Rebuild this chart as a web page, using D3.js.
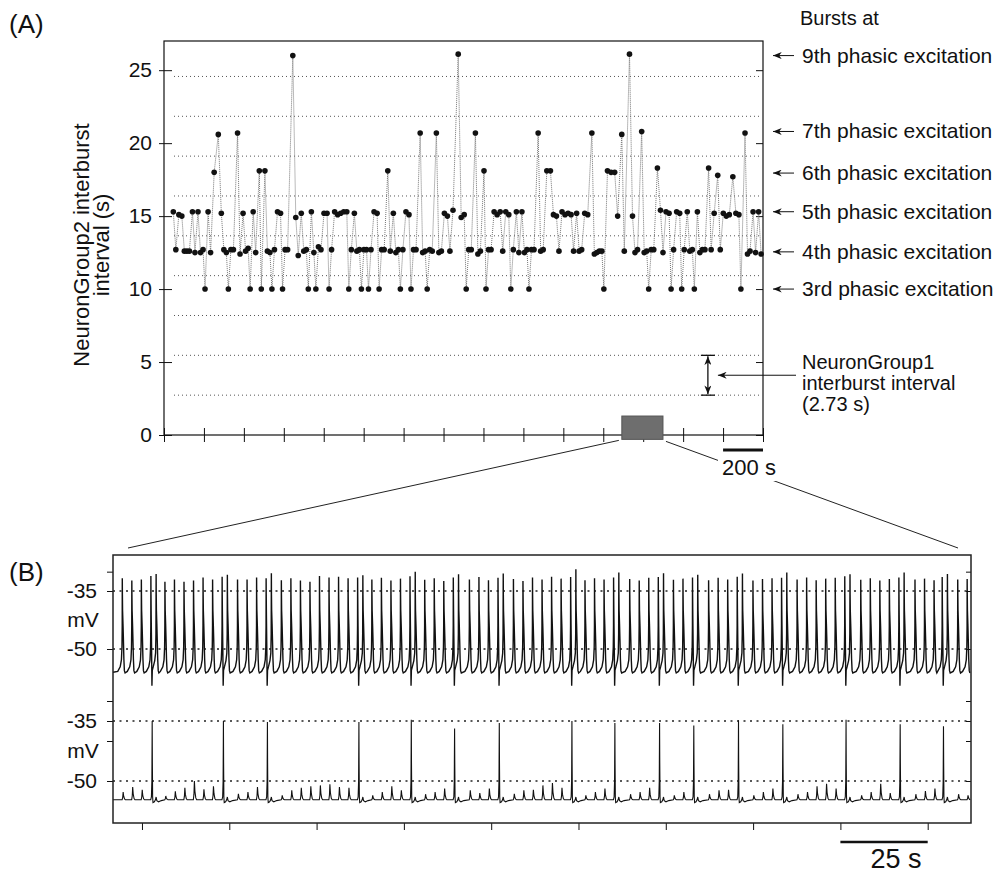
<!DOCTYPE html>
<html>
<head>
<meta charset="utf-8">
<script src="https://cdn.jsdelivr.net/npm/d3@7"></script>
<style>
body { margin: 0; background: #fff; }
text { font-family: "Liberation Sans", Arial, sans-serif; fill: #111; }
</style>
</head>
<body>
<svg id="chart" width="1005" height="874"></svg>
<script>
// ---------- data, panel A ----------
// time (s) of the first plotted NeuronGroup2 burst; every later burst is the previous one plus its interval
const firstBurst = 46.6;
const intervals = [
  15.3,12.7,15.1,15.0,12.6,12.6,12.6,15.3,12.5,15.3,12.5,12.7,10.0,15.3,12.5,18.0,20.6,15.2,12.7,12.5,
  10.0,12.7,12.7,20.7,12.4,15.2,12.6,12.8,10.0,15.3,12.5,18.1,10.0,18.1,12.6,12.5,10.0,12.7,15.3,15.2,
  10.0,12.7,12.7,26.0,14.9,12.3,15.2,12.6,12.7,10.0,15.3,12.5,
  10.0,12.9,12.7,15.2,15.2,10.0,12.7,15.3,15.1,15.2,15.3,15.3,10.0,12.7,15.2,12.6,12.7,10.0,12.7,12.7,
  10.0,12.7,15.3,15.2,10.0,12.7,12.7,18.1,12.6,15.2,12.5,12.7,10.0,12.7,15.3,15.1,10.0,12.7,12.7,20.7,
  12.5,12.6,10.0,12.7,12.6,20.7,12.5,12.6,15.2,15.0,12.6,15.4,26.1,14.9,15.1,10.0,
  12.7,12.7,20.7,12.4,12.6,18.1,10.0,12.7,12.7,15.3,15.1,15.3,12.6,15.3,15.1,10.0,12.7,15.3,12.5,15.3,
  12.5,12.7,10.0,12.7,12.7,20.7,12.6,12.7,18.1,18.1,15.1,15.0,12.6,15.3,15.1,15.2,15.1,12.6,15.2,12.6,
  12.7,15.2,15.1,20.7,12.4,12.5,12.6,12.6,10.0,18.1,18.0,18.0,15.0,
  20.6,12.6,26.1,15.0,12.5,12.7,20.8,12.5,12.6,10.0,12.7,12.7,18.3,15.4,12.5,15.3,15.2,10.0,12.7,15.3,
  15.2,10.0,12.7,15.3,12.6,12.7,10.0,15.3,12.5,12.7,12.7,18.3,12.7,15.2,17.8,12.7,15.2,15.0,15.1,17.7,
  15.2,15.1,10.0,20.7,12.4,12.6,15.3,12.5,15.3,12.4
];
const yTicksA = [0, 5, 10, 15, 20, 25];
const xTicksA = [0,200,400,600,800,1000,1200,1400,1600,1800,2000,2200,2400,2600,2800,3000];
const ng1Interval = 2.73;
const phasicLabels = ["9th phasic excitation","7th phasic excitation","6th phasic excitation",
                      "5th phasic excitation","4th phasic excitation","3rd phasic excitation"];
const phasicLevels = [26.0, 20.8, 17.95, 15.3, 12.55, 10.0];
const zoomWindow = [2293, 2499];     // s, grey box
const scaleBarA = [2800, 3000];

// ---------- data, panel B ----------
const ng1Times = [
  -5.64,-2.91,-0.18,
  2.55,6.57,9.30,12.03,14.76,17.49,20.22,
  22.95,27.36,30.09,32.82,
  35.55,39.91,42.64,45.37,48.10,50.83,53.56,56.29,59.02,
  61.75,65.83,68.56,71.29,74.02,
  76.75,80.96,83.69,86.42,
  89.15,93.76,96.49,99.22,
  101.95,106.37,109.10,111.83,114.56,117.29,120.02,
  122.75,126.86,129.59,132.32,
  135.05,139.66,142.39,145.12,
  147.85,152.19,154.92,
  157.65,162.26,164.99,167.72,
  170.45,174.96,177.69,180.42,
  183.15,187.60,190.33,193.06,195.79,198.52,
  201.25,205.83,208.56,211.29,214.02,
  216.75,221.36,224.09,226.82,
  229.15,233.6,236.3
];
const ng1Peaks = [
  -31.7,-32.3,-32.0,
  -31.1,-32.6,-32.0,-32.6,-32.3,-31.5,-32.0,
  -31.3,-32.0,-32.0,-31.5,
  -31.7,-32.2,-31.7,-32.3,-32.6,-31.1,-31.5,-31.3,-31.7,
  -31.5,-32.0,-31.6,-32.3,-31.8,
  -31.2,-32.1,-31.7,-32.4,
  -31.5,-32.0,-31.4,-32.2,
  -31.6,-31.9,-32.4,-31.5,-32.0,-31.3,-31.8,
  -31.4,-32.2,-31.7,-32.0,
  -31.5,-31.9,-32.3,-31.6,
  -31.4,-32.1,-31.8,
  -31.5,-32.2,-31.6,-32.0,
  -31.3,-32.3,-31.9,-31.7,
  -31.6,-32.0,-31.5,-32.2,-31.8,-31.6,
  -31.2,-32.1,-31.7,-32.3,-31.9,
  -31.5,-32.0,-31.8,-32.2,
  -31.4,-32.0,-31.9
];
// NeuronGroup2 response (peak mV) to each NeuronGroup1 burst; above -45 it is a spike
const ng2Peaks = [
  -52.75,-51.5,-52.2,
  -35.0,-53.75,-52.6,-51.7,-50.0,-52.1,-51.3,
  -35.0,-53.2,-52.75,-51.5,
  -35.25,-53.6,-52.3,-51.7,-51.3,-51.1,-50.8,-51.5,-51.7,
  -35.25,-53.6,-52.75,-51.3,-52.3,
  -34.7,-53.3,-52.75,-51.9,
  -36.9,-52.3,-53.0,-51.9,
  -35.5,-53.2,-52.3,-52.2,-51.1,-50.5,-51.7,
  -35.0,-53.6,-52.75,-51.9,
  -35.5,-53.3,-52.75,-51.7,
  -35.5,-53.6,-52.75,
  -36.1,-53.3,-52.3,-52.2,
  -34.8,-53.6,-52.75,-51.9,
  -35.8,-53.3,-52.75,-51.3,-50.7,-51.9,
  -34.7,-53.6,-52.75,-50.7,-53.0,
  -35.8,-53.3,-52.5,-51.9,
  -36.3,-53.3,-53.6
];
// extra NeuronGroup1 peak that follows each NeuronGroup2 spike
const ng1Rebound = [-30.6,-30.8,-30.4,-30.9,-30.0,-30.7,-30.5,-29.4,-30.2,-30.4,-30.8,-30.5,-30.2,-30.7,-30.2,-30.6];
const mvLabels = [-35, -50];
const mvTicksTop = [-30, -35, -50];
const mvTicksBottom = [-30, -35, -40, -50];
const xTicksB = [0,25,50,75,100,125,150,175,200,225];
const scaleBarB = [200, 225];

// ---------- layout ----------
const svg = d3.select("#chart");
const A = {left: 164, right: 763, top: 41, bottom: 435};
const B = {left: 113, right: 971, top: 555, bottom: 823};

const xA = d3.scaleLinear().domain([0, 3000]).range([A.left, A.right]);
const yA = d3.scaleLinear().domain([0, 27]).range([A.bottom, A.top]);

const burstTimes = d3.cumsum(intervals).map(c => c + firstBurst - intervals[0]);
const pts = intervals.map((v, i) => ({t: burstTimes[i], v: v}));

function styleAxis(g) {
  g.select(".domain").remove();
  g.selectAll(".tick line").attr("stroke", "#111");
  g.selectAll(".tick text").attr("font-family", "Liberation Sans, Arial, sans-serif")
    .attr("font-size", 21).attr("fill", "#111");
}

// panel labels
svg.append("text").attr("x", 9).attr("y", 33).attr("font-size", 26).text("(A)");
svg.append("text").attr("x", 9).attr("y", 581).attr("font-size", 26).text("(B)");

// gridlines at multiples of the NeuronGroup1 interval
const gridLevels = d3.range(1, 10).map(k => k * ng1Interval);
svg.append("g").selectAll("line").data(gridLevels).join("line")
  .attr("x1", A.left + 10).attr("x2", A.right - 2)
  .attr("y1", d => yA(d)).attr("y2", d => yA(d))
  .attr("stroke", "#555").attr("stroke-width", 1).attr("stroke-dasharray", "1,3");

// axes A
svg.append("g").attr("transform", `translate(${A.left},0)`)
  .call(d3.axisLeft(yA).tickValues(yTicksA).tickSize(5).tickPadding(7)).call(styleAxis);
svg.append("g").attr("transform", `translate(${A.left},0)`)
  .call(d3.axisRight(yA).tickValues(yTicksA).tickSize(8).tickFormat("")).call(styleAxis);
svg.append("g").attr("transform", `translate(${A.right},0)`)
  .call(d3.axisLeft(yA).tickValues(yTicksA).tickSize(7).tickFormat("")).call(styleAxis);
svg.append("g").attr("transform", `translate(0,${A.bottom})`)
  .call(d3.axisBottom(xA).tickValues(xTicksA).tickSize(7).tickFormat("")).call(styleAxis);
svg.append("g").attr("transform", `translate(0,${A.bottom})`)
  .call(d3.axisTop(xA).tickValues(xTicksA).tickSize(7).tickFormat("")).call(styleAxis);
svg.append("rect").attr("x", A.left).attr("y", A.top)
  .attr("width", A.right - A.left).attr("height", A.bottom - A.top)
  .attr("fill", "none").attr("stroke", "#111").attr("stroke-width", 1.2);

// y title
const yTitle = svg.append("text").attr("transform", "translate(89,245) rotate(-90)")
  .attr("text-anchor", "middle").attr("font-size", 22);
yTitle.append("tspan").attr("x", 0).attr("dy", 0).text("NeuronGroup2 interburst");
yTitle.append("tspan").attr("x", 0).attr("dy", 20).text("interval (s)");

// series
svg.append("path").datum(pts)
  .attr("d", d3.line().x(d => xA(d.t)).y(d => yA(d.v)))
  .attr("fill", "none").attr("stroke", "#777").attr("stroke-width", 1)
  .attr("stroke-dasharray", "1,1");
svg.append("g").selectAll("circle").data(pts).join("circle")
  .attr("cx", d => xA(d.t)).attr("cy", d => yA(d.v)).attr("r", 2.8)
  .attr("fill", "#111");

// arrow marker, tip along the line direction
const defs = svg.append("defs");
defs.append("marker").attr("id", "arr").attr("viewBox", "0 0 10 8")
  .attr("refX", 10).attr("refY", 4).attr("markerWidth", 9).attr("markerHeight", 7)
  .attr("markerUnits", "userSpaceOnUse").attr("orient", "auto-start-reverse")
  .append("path").attr("d", "M10,4 L0,0 L3,4 L0,8 Z").attr("fill", "#111");

// right-side labels
svg.append("text").attr("x", 800).attr("y", 25).attr("font-size", 20).text("Bursts at");
const lab = svg.append("g").selectAll("g").data(phasicLabels).join("g")
  .attr("transform", (d, i) => `translate(0,${yA(phasicLevels[i])})`);
lab.append("line").attr("x1", 794).attr("x2", 773).attr("y1", 0).attr("y2", 0)
  .attr("stroke", "#111").attr("stroke-width", 1).attr("marker-end", "url(#arr)");
lab.append("text").attr("x", 802).attr("y", 7).attr("font-size", 21).text(d => d);

// NeuronGroup1 interval annotation
const annX = xA(2724);
svg.append("line").attr("x1", annX).attr("x2", annX)
  .attr("y1", yA(ng1Interval) - 1).attr("y2", yA(2 * ng1Interval) + 1)
  .attr("stroke", "#111").attr("stroke-width", 1.3)
  .attr("marker-start", "url(#arr)").attr("marker-end", "url(#arr)");
[ng1Interval, 2 * ng1Interval].forEach(v => {
  svg.append("line").attr("x1", annX - 7).attr("x2", annX + 7)
    .attr("y1", yA(v)).attr("y2", yA(v)).attr("stroke", "#111").attr("stroke-width", 1.3);
});
svg.append("line").attr("x1", 796).attr("x2", annX + 10)
  .attr("y1", yA(1.5 * ng1Interval)).attr("y2", yA(1.5 * ng1Interval))
  .attr("stroke", "#111").attr("stroke-width", 1).attr("marker-end", "url(#arr)");
const ann = svg.append("text").attr("font-size", 20);
["NeuronGroup1", "interburst interval", "(2.73 s)"].forEach((s, i) => {
  ann.append("tspan").attr("x", 802).attr("y", 369 + i * 21).text(s);
});

// zoom box and connectors
svg.append("rect").attr("x", xA(zoomWindow[0])).attr("y", yA(1.3))
  .attr("width", xA(zoomWindow[1]) - xA(zoomWindow[0])).attr("height", yA(-0.3) - yA(1.3))
  .attr("fill", "#6e6e6e").attr("stroke", "#555");
svg.append("line").attr("x1", xA(zoomWindow[0]) - 3).attr("y1", yA(-0.3) + 1)
  .attr("x2", B.left + 15).attr("y2", B.top - 7).attr("stroke", "#222").attr("stroke-width", 1);
svg.append("line").attr("x1", xA(zoomWindow[1]) + 3).attr("y1", yA(-0.3) + 2)
  .attr("x2", B.right - 13).attr("y2", B.top - 7).attr("stroke", "#222").attr("stroke-width", 1);

// 200 s scale bar
svg.append("line").attr("x1", xA(scaleBarA[0])).attr("x2", xA(scaleBarA[1]))
  .attr("y1", 450).attr("y2", 450).attr("stroke", "#111").attr("stroke-width", 3);
svg.append("rect").attr("x", 718).attr("y", 455).attr("width", 64).attr("height", 26).attr("fill", "#fff");
svg.append("text").attr("x", 749).attr("y", 475).attr("text-anchor", "middle")
  .attr("font-size", 22).text("200 s");

// ---------- panel B ----------
const xB = d3.scaleLinear().domain([-8.3, 237.4]).range([B.left, B.right]);
const yTop = d3.scaleLinear().domain([-50, -35]).range([649, 591]);
const yBot = d3.scaleLinear().domain([-50, -35]).range([781, 721]);

defs.append("clipPath").attr("id", "clipB").append("rect")
  .attr("x", B.left).attr("y", B.top).attr("width", B.right - B.left).attr("height", B.bottom - B.top);

// dotted reference lines
[[yTop, -35], [yTop, -50], [yBot, -35], [yBot, -50]].forEach(([s, v]) => {
  svg.append("line").attr("x1", B.left).attr("x2", B.right).attr("y1", s(v)).attr("y2", s(v))
    .attr("stroke", "#222").attr("stroke-width", 1.6).attr("stroke-dasharray", "2,4.5");
});

// waveform shapes (offset s, value mV) around each burst
const rampIn = [[-1.3,-55.8],[-0.6,-54.6],[-0.25,-52.8],[-0.09,-49.5],[-0.02,-44]];
const ng1Shape = (b, V) => rampIn.concat([[0,V],[0.03,-36],[0.08,-40],[0.2,-43.5],[0.32,-47.5],
  [0.45,-52.5],[0.6,-55.6],[0.8,-56.2]]).map(p => [b + p[0], p[1]]);
const ng1SpikeShape = (b, V, Vr) => rampIn.concat([[0,V],[0.03,-36],[0.08,-41],[0.2,-50],[0.3,-59.5],
  [0.4,-55.5],[0.7,-54.5],[1.1,-53],[1.35,-51],[1.45,-46],[1.5,Vr],[1.53,-36],[1.58,-40],[1.7,-43.5],
  [1.82,-47.5],[1.95,-52.5],[2.1,-55.6],[2.3,-56.2]]).map(p => [b + p[0], p[1]]);
const base2 = -54.7;
const ng2Bump = (b, V) => [[-0.05,base2],[0.12,base2 + 0.3 * (V - base2)],[0.25,V],
  [0.4,base2 + 0.45 * (V - base2)],[0.65,base2 + 0.1 * (V - base2)],[0.9,base2]].map(p => [b + p[0], p[1]]);
const ng2Spike = (b, V) => [[-0.05,base2],[0.15,-54],[0.28,-50],[0.33,-42],[0.37,V],[0.42,-45],[0.5,-54],
  [0.6,-55.4],[1.0,-55.2],[1.3,-54.7],[1.5,-54.0],[1.7,-54.9],[2.2,-55.2],[3.0,-54.9]].map(p => [b + p[0], p[1]]);

let trace1 = [[-8.3, -56.0]], trace2 = [[-8.3, base2]];
let k = 0;
ng1Times.forEach((b, i) => {
  const spike = ng2Peaks[i] > -45;
  trace1 = trace1.concat(spike ? ng1SpikeShape(b, ng1Peaks[i], ng1Rebound[k]) : ng1Shape(b, ng1Peaks[i]));
  trace2 = trace2.concat(spike ? ng2Spike(b, ng2Peaks[i]) : ng2Bump(b, ng2Peaks[i]));
  if (spike) k++;
});

const lineTop = d3.line().x(d => xB(d[0])).y(d => yTop(d[1]));
const lineBot = d3.line().x(d => xB(d[0])).y(d => yBot(d[1]));
const gTr = svg.append("g").attr("clip-path", "url(#clipB)");
gTr.append("path").attr("d", lineTop(trace1)).attr("fill", "none")
  .attr("stroke", "#111").attr("stroke-width", 1.4);
gTr.append("path").attr("d", lineBot(trace2)).attr("fill", "none")
  .attr("stroke", "#111").attr("stroke-width", 1.1);

// axes B
svg.append("g").attr("transform", `translate(${B.left},0)`)
  .call(d3.axisLeft(yTop).tickValues(mvTicksTop).tickSize(6).tickFormat("")).call(styleAxis);
svg.append("g").attr("transform", `translate(${B.left},0)`)
  .call(d3.axisLeft(yBot).tickValues(mvTicksBottom).tickSize(6).tickFormat("")).call(styleAxis);
svg.append("g").attr("transform", `translate(${B.right},0)`)
  .call(d3.axisLeft(yTop).tickValues(mvTicksTop).tickSize(5).tickFormat("")).call(styleAxis);
svg.append("g").attr("transform", `translate(${B.right},0)`)
  .call(d3.axisLeft(yBot).tickValues(mvTicksBottom).tickSize(5).tickFormat("")).call(styleAxis);
svg.append("g").attr("transform", `translate(0,${B.bottom})`)
  .call(d3.axisBottom(xB).tickValues(xTicksB).tickSize(7).tickFormat("")).call(styleAxis);
svg.append("rect").attr("x", B.left).attr("y", B.top)
  .attr("width", B.right - B.left).attr("height", B.bottom - B.top)
  .attr("fill", "none").attr("stroke", "#222").attr("stroke-width", 1.5);

[yTop, yBot].forEach(s => {
  mvLabels.forEach(v => {
    svg.append("text").attr("x", 97).attr("y", s(v) + 7).attr("text-anchor", "end")
      .attr("font-size", 21).text(String(v));
  });
  svg.append("text").attr("x", 83).attr("y", s(-42.5) + 7).attr("text-anchor", "middle")
    .attr("font-size", 21).text("mV");
});

// 25 s scale bar
svg.append("line").attr("x1", xB(scaleBarB[0])).attr("x2", xB(scaleBarB[1]))
  .attr("y1", 842).attr("y2", 842).attr("stroke", "#111").attr("stroke-width", 2.5);
svg.append("text").attr("x", (xB(scaleBarB[0]) + xB(scaleBarB[1])) / 2 + 12).attr("y", 868)
  .attr("text-anchor", "middle").attr("font-size", 27).text("25 s");
</script>
</body>
</html>
